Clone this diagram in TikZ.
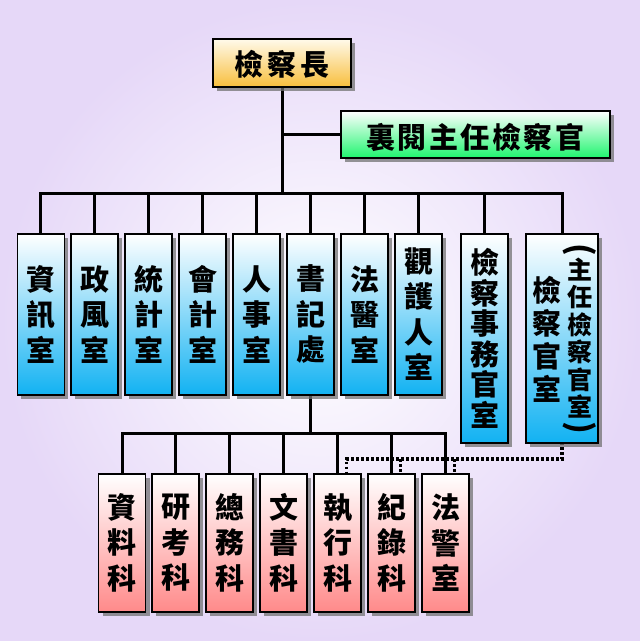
\documentclass[tikz,border=0pt]{standalone}
\usepackage{fontspec}
\newfontfamily\cjk{Noto Sans CJK TC}
\usetikzlibrary{shadows}
\definecolor{bgout}{RGB}{230,216,248}
\definecolor{topc}{RGB}{248,190,60}
\definecolor{topl}{RGB}{255,250,235}
\definecolor{grnc}{RGB}{30,245,110}
\definecolor{bluc}{RGB}{18,178,242}
\definecolor{pnkc}{RGB}{255,138,138}
\begin{document}
\begin{tikzpicture}[x=1pt,y=-1pt,
  box/.style={draw=black, line width=1.5pt, inner sep=0pt,
    drop shadow={shadow xshift=4pt, shadow yshift=-4pt, fill=black!55, opacity=0.75}},
  topbox/.style={box, top color=topl, bottom color=topc, minimum width=138pt, minimum height=48pt},
  grnbox/.style={box, top color=white, bottom color=grnc, minimum width=269pt, minimum height=47pt},
  blubox/.style={box, top color=white, bottom color=bluc, minimum width=47pt},
  pnkbox/.style={box, top color=white, bottom color=pnkc, minimum width=47pt, minimum height=138pt},
  vtext/.style={align=center, inner sep=0pt, font=\cjk\bfseries\fontsize{29}{35.5}\selectfont},
  htext/.style={inner sep=0pt, font=\cjk\bfseries\fontsize{29}{30}\selectfont},
  conn/.style={line width=3pt, line join=miter},
  dotline/.style={line width=3.2pt, line cap=butt, dash pattern=on 2.6pt off 2.4pt}]
\useasboundingbox (0,0) rectangle (640,641);
\shade[inner color=white, outer color=bgout] (0,0) rectangle (640,641);

\coordinate (busY) at (0,193);
\coordinate (lbusY) at (0,433);
\coordinate (dotY) at (0,459);

% box anchor coordinates
\coordinate (ctop) at (282,63);
\coordinate (cgrn) at (475.5,134.5);
\foreach \n/\x in {1/40.75,2/94.5,3/148.5,4/202.5,5/256.5,6/310.5,7/364.5,8/418.5}
  \coordinate (cb\n) at (\x,233);
\coordinate (cb9) at (484.5,233);
\coordinate (cb10) at (562,233);
\foreach \n/\x in {1/122,2/175.5,3/229.5,4/283.5,5/337.5,6/391.5,7/445.5}
  \coordinate (cp\n) at (\x,473);
\coordinate (b6bot) at (310.5,394);
\coordinate (b10bot) at (562,442);

% lines
\draw[conn] (ctop) -- (ctop |- cgrn) -- ([xshift=-134.5pt]cgrn);
\draw[conn] (ctop) -- (ctop |- busY);
\draw[conn] (cb1) -- (cb1 |- busY) -- (cb10 |- busY) -- (cb10);
\foreach \n in {2,...,9} \draw[conn] (cb\n) -- (cb\n |- busY);
\draw[conn] (b6bot) -- (b6bot |- lbusY);
\draw[conn] (cp1) -- (cp1 |- lbusY) -- (cp7 |- lbusY) -- (cp7);
\foreach \n in {2,...,6} \draw[conn] (cp\n) -- (cp\n |- lbusY);
\draw[dotline] (b10bot) -- (b10bot |- dotY) -- ([xshift=9pt]cp5 |- dotY) -- ([xshift=9pt]cp5);
\draw[dotline] ([xshift=9pt]cp6 |- dotY) -- ([xshift=9pt]cp6);
\draw[dotline] ([xshift=9pt]cp7 |- dotY) -- ([xshift=9pt]cp7);

% top boxes
\node[topbox] (top) at (ctop) {};
\node[htext] at ([yshift=-1pt]top.center) {檢\hspace{4pt}察\hspace{4pt}長};
\node[grnbox] (grn) at (cgrn) {};
\node[htext] at ([yshift=-3pt]grn.center) {裏\hspace{2.5pt}閱\hspace{2.5pt}主\hspace{2.5pt}任\hspace{2.5pt}檢\hspace{2.5pt}察\hspace{2.5pt}官};

% blue boxes
\node[blubox, minimum height=161pt, anchor=north] (b1) at (cb1) {};
\node[vtext] at (b1.center) {資\\訊\\室};
\node[blubox, minimum height=161pt, anchor=north] (b2) at (cb2) {};
\node[vtext] at (b2.center) {政\\風\\室};
\node[blubox, minimum height=161pt, anchor=north] (b3) at (cb3) {};
\node[vtext] at (b3.center) {統\\計\\室};
\node[blubox, minimum height=161pt, anchor=north] (b4) at (cb4) {};
\node[vtext] at (b4.center) {會\\計\\室};
\node[blubox, minimum height=161pt, anchor=north] (b5) at (cb5) {};
\node[vtext] at (b5.center) {人\\事\\室};
\node[blubox, minimum height=161pt, anchor=north] (b6) at (cb6) {};
\node[vtext] at (b6.center) {書\\記\\處};
\node[blubox, minimum height=161pt, anchor=north] (b7) at (cb7) {};
\node[vtext] at (b7.center) {法\\醫\\室};
\node[blubox, minimum height=161pt, anchor=north] (b8) at (cb8) {};
\node[vtext] at (b8.center) {觀\\護\\人\\室};
\node[blubox, minimum height=209pt, anchor=north] (b9) at (cb9) {};
\node[vtext, font=\cjk\bfseries\fontsize{29}{30.5}\selectfont] at (b9.center) {檢\\察\\事\\務\\官\\室};
\node[blubox, minimum width=72pt, minimum height=209pt, anchor=north] (b10) at (cb10) {};
\node[vtext, font=\cjk\bfseries\fontsize{29}{33}\selectfont] at (547,339.5) {檢\\察\\官\\室};
\node[vtext, font=\cjk\bfseries\fontsize{25}{27.5}\selectfont] at (580,338) {主\\任\\檢\\察\\官\\室};
\node[inner sep=0pt, font=\cjk\bfseries\fontsize{32}{34}\selectfont] at (580,250) {\rotatebox{-90}{(}};
\node[inner sep=0pt, font=\cjk\bfseries\fontsize{32}{34}\selectfont] at (580,428) {\rotatebox{-90}{)}};

% pink boxes
\node[pnkbox, anchor=north] (p1) at (cp1) {};
\node[vtext] at (p1.center) {資\\料\\科};
\node[pnkbox, anchor=north] (p2) at (cp2) {};
\node[vtext] at (p2.center) {研\\考\\科};
\node[pnkbox, anchor=north] (p3) at (cp3) {};
\node[vtext] at (p3.center) {總\\務\\科};
\node[pnkbox, anchor=north] (p4) at (cp4) {};
\node[vtext] at (p4.center) {文\\書\\科};
\node[pnkbox, anchor=north] (p5) at (cp5) {};
\node[vtext] at (p5.center) {執\\行\\科};
\node[pnkbox, anchor=north] (p6) at (cp6) {};
\node[vtext] at (p6.center) {紀\\錄\\科};
\node[pnkbox, anchor=north] (p7) at (cp7) {};
\node[vtext] at (p7.center) {法\\警\\室};
\end{tikzpicture}
\end{document}
